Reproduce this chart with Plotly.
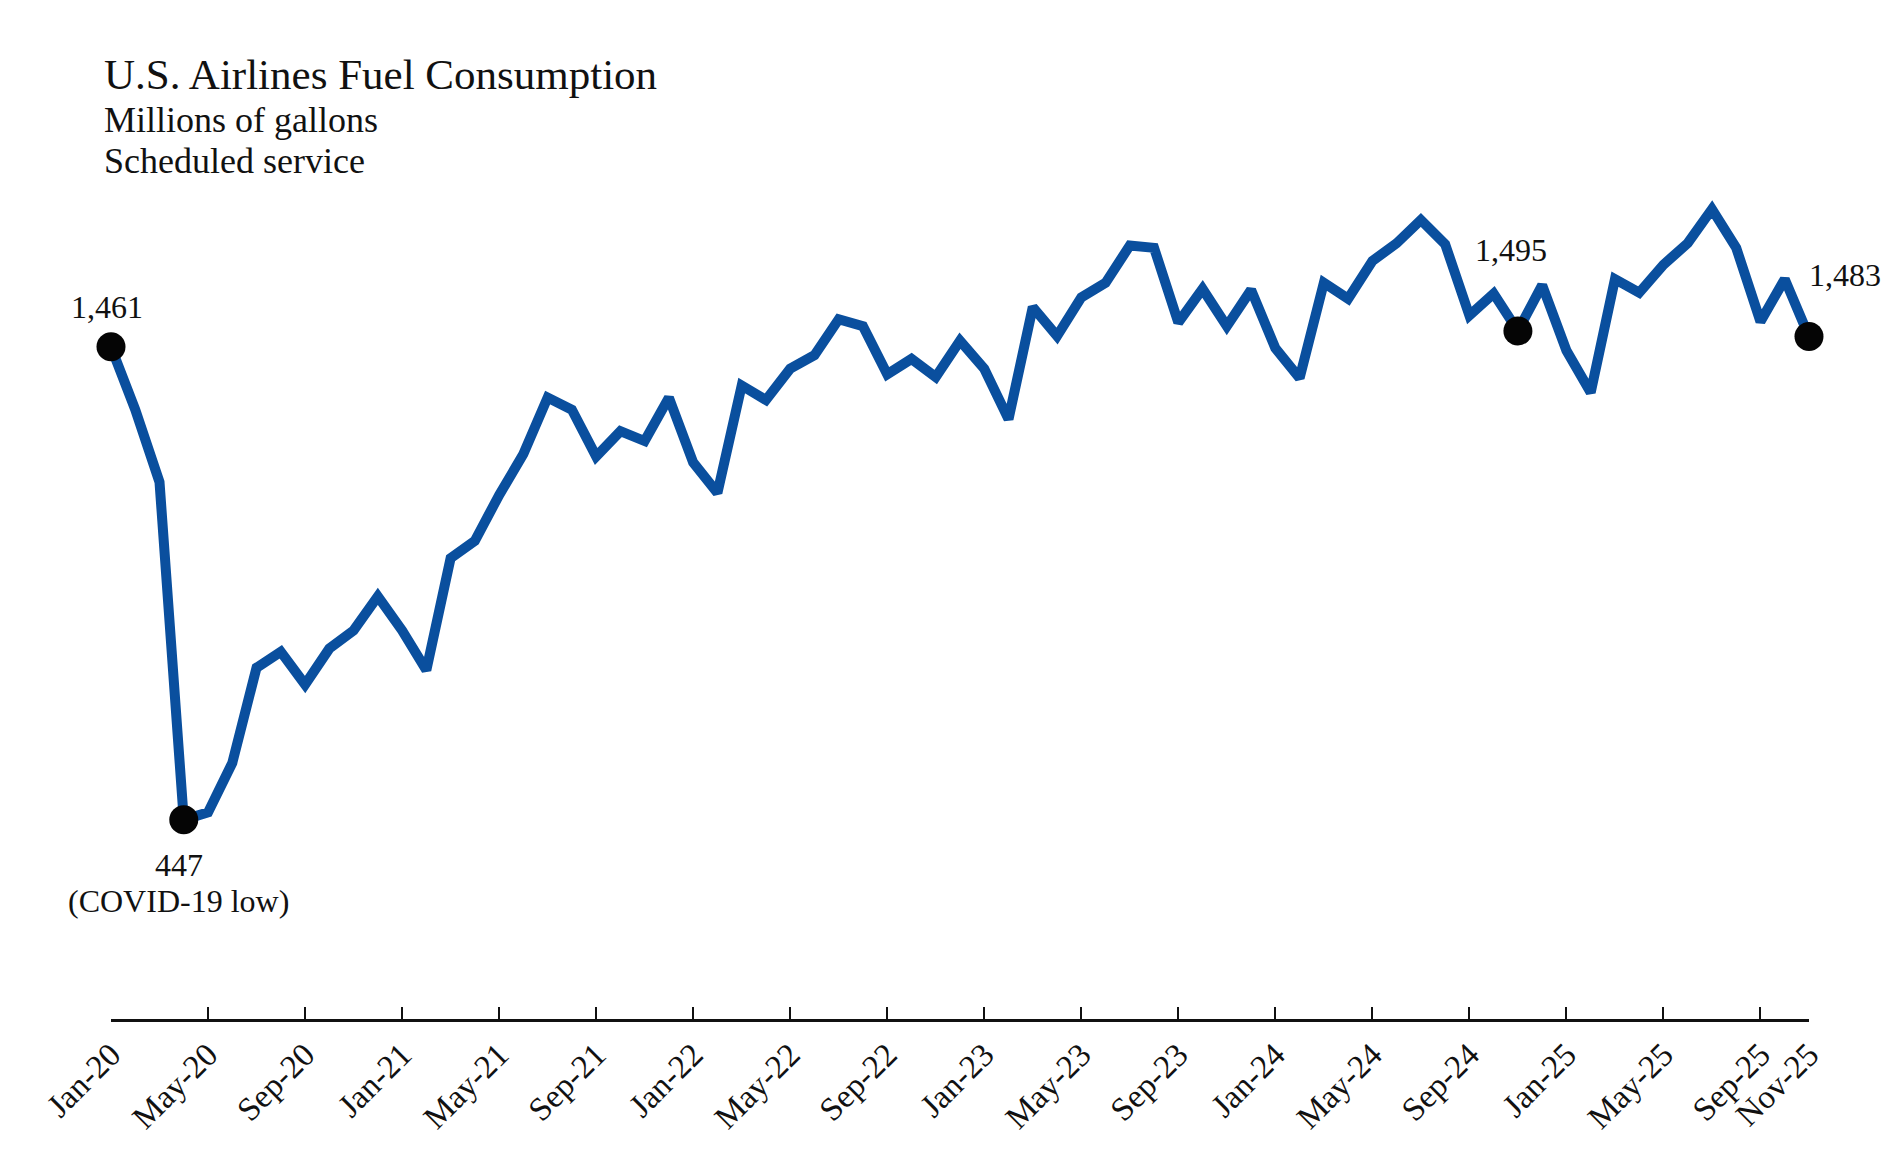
import plotly.graph_objects as go

month_names = ["Jan", "Feb", "Mar", "Apr", "May", "Jun", "Jul", "Aug", "Sep", "Oct", "Nov", "Dec"]
years = ["20", "21", "22", "23", "24", "25"]
months = [f"{m}-{y}" for y in years for m in month_names][:71]  # Jan-20 .. Nov-25

fuel = [1461, 1326, 1171, 447, 463, 569, 773, 807, 737, 814,
        853, 926, 853, 768, 1008, 1045, 1143, 1231, 1352, 1326,
        1226, 1280, 1259, 1352, 1213, 1148, 1378, 1347, 1414, 1443,
        1520, 1505, 1402, 1435, 1396, 1474, 1414, 1306, 1546, 1484,
        1567, 1598, 1678, 1673, 1513, 1585, 1505, 1583, 1458, 1394,
        1598, 1564, 1645, 1683, 1733, 1681, 1528, 1575, 1495, 1593,
        1453, 1363, 1606, 1577, 1637, 1683, 1756, 1673, 1515, 1606,
        1483]

tick_labels = ["Jan-20", "May-20", "Sep-20", "Jan-21", "May-21", "Sep-21", "Jan-22",
               "May-22", "Sep-22", "Jan-23", "May-23", "Sep-23", "Jan-24", "May-24",
               "Sep-24", "Jan-25", "May-25", "Sep-25", "Nov-25"]

highlight_months = ["Jan-20", "Apr-20", "Nov-24", "Nov-25"]
highlight_vals = [fuel[months.index(m)] for m in highlight_months]

FONT = "Liberation Serif"

fig = go.Figure()
fig.add_trace(go.Scatter(
    x=months, y=fuel, mode="lines",
    line=dict(color="#0a4f9e", width=10),
    hoverinfo="x+y", cliponaxis=False, showlegend=False))
fig.add_trace(go.Scatter(
    x=highlight_months, y=highlight_vals, mode="markers",
    marker=dict(color="#050505", size=29),
    cliponaxis=False, showlegend=False))

ann_font = dict(family=FONT, size=32, color="#111111")
annotations = [
    dict(x="Jan-20", y=highlight_vals[0], text="1,461", showarrow=False, yshift=40, xshift=-4, font=ann_font),
    dict(x="Apr-20", y=highlight_vals[1], text="447", showarrow=False, yshift=-45, xshift=-5, font=ann_font),
    dict(x="Apr-20", y=highlight_vals[1], text="(COVID-19 low)", showarrow=False, yshift=-81, xshift=-5, font=ann_font),
    dict(x="Nov-24", y=highlight_vals[2], text="1,495", showarrow=False, yshift=81, xshift=-7, font=ann_font),
    dict(x="Nov-25", y=highlight_vals[3], text="1,483", showarrow=False, yshift=62, xshift=36, font=ann_font),
    dict(x=-0.0053, y=1.0775, xref="paper", yref="paper", xanchor="left", yanchor="middle",
         text="U.S. Airlines Fuel Consumption", showarrow=False,
         font=dict(family=FONT, size=43, color="#111111")),
    dict(x=-0.0053, y=1.0251, xref="paper", yref="paper", xanchor="left", yanchor="middle",
         text="Millions of gallons", showarrow=False,
         font=dict(family=FONT, size=36, color="#111111")),
    dict(x=-0.0053, y=0.9784, xref="paper", yref="paper", xanchor="left", yanchor="middle",
         text="Scheduled service", showarrow=False,
         font=dict(family=FONT, size=36, color="#111111")),
]

fig.update_layout(
    width=1891, height=1173,
    margin=dict(l=103, r=90, t=134, b=162),
    paper_bgcolor="white", plot_bgcolor="white",
    font=dict(family=FONT, color="#111111"),
    annotations=annotations,
    showlegend=False,
)
fig.update_xaxes(
    type="category", categoryorder="array", categoryarray=months,
    range=[0, len(months) - 1],
    tickmode="array", tickvals=tick_labels, ticktext=tick_labels,
    tickangle=-45, tickfont=dict(family=FONT, size=33, color="#111111"),
    ticks="inside", ticklen=12, tickwidth=2, tickcolor="#111111",
    showline=True, linewidth=3, linecolor="#111111",
    showgrid=False, zeroline=False,
)
fig.update_yaxes(range=[20, 1900], visible=False, showgrid=False, zeroline=False)

fig.write_html("out.html")
